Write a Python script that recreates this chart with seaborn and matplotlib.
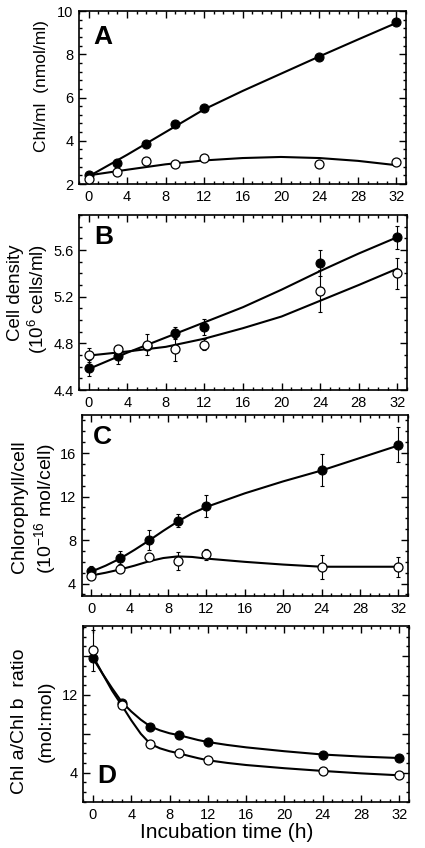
import matplotlib
matplotlib.use("Agg")
import matplotlib.pyplot as plt
import seaborn as sns
import numpy as np
import pandas as pd
from matplotlib.ticker import MultipleLocator, FixedLocator

sns.set_style("ticks")
plt.rcParams['font.family'] = ['Liberation Sans', 'DejaVu Sans']
plt.rcParams['mathtext.fontset'] = 'custom'
plt.rcParams['mathtext.rm'] = 'Liberation Sans'
plt.rcParams['mathtext.it'] = 'Liberation Sans:italic'
plt.rcParams['text.color'] = 'black'
plt.rcParams['axes.labelcolor'] = 'black'
plt.rcParams['xtick.color'] = 'black'
plt.rcParams['ytick.color'] = 'black'

# ---------------- data ----------------
time = [0, 3, 6, 9, 12, 24, 32]
x_ticks = [0, 4, 8, 12, 16, 20, 24, 28, 32]

A_filled = [2.42, 2.96, 3.84, 4.76, 5.50, 7.89, 9.51]
A_open = [2.23, 2.57, 3.08, 2.91, 3.22, 2.91, 3.00]
A_fit_x = [0, 4, 8, 12, 16, 20, 24, 28, 32]
A_fit_filled = [2.35, 3.35, 4.40, 5.45, 6.30, 7.10, 7.90, 8.68, 9.45]
A_fit_open = [2.40, 2.66, 2.91, 3.09, 3.20, 3.25, 3.20, 3.07, 2.87]

B_filled = [4.59, 4.69, 4.78, 4.89, 4.94, 5.49, 5.71]
B_filled_err = [0.07, 0.07, 0.0, 0.05, 0.07, 0.11, 0.10]
B_open = [4.70, 4.75, 4.79, 4.75, 4.79, 5.25, 5.40]
B_open_err = [0.06, 0.02, 0.09, 0.10, 0.05, 0.18, 0.13]
B_fit_x = [0, 4, 8, 12, 16, 20, 24, 28, 32]
B_fit_filled = [4.58, 4.72, 4.85, 4.98, 5.11, 5.26, 5.42, 5.57, 5.71]
B_fit_open = [4.695, 4.73, 4.77, 4.84, 4.93, 5.03, 5.165, 5.30, 5.44]

C_filled = [5.14, 6.37, 8.00, 9.78, 11.14, 14.46, 16.77]
C_filled_err = [0.5, 0.6, 0.9, 0.6, 1.0, 1.5, 1.6]
C_open = [4.71, 5.32, 6.46, 6.09, 6.68, 5.54, 5.54]
C_open_err = [0.2, 0.0, 0.0, 0.8, 0.5, 1.1, 0.95]
C_fit_x = [0, 1.5, 3, 4.5, 6, 7.5, 9, 10.5, 12, 16, 20, 24, 28, 32]
C_fit_filled = [5.1, 5.65, 6.3, 7.1, 7.95, 8.85, 9.7, 10.45, 11.05, 12.3, 13.4, 14.4, 15.55, 16.7]
C_fit_open = [4.75, 5.0, 5.3, 5.65, 6.05, 6.35, 6.5, 6.45, 6.3, 6.0, 5.75, 5.55, 5.55, 5.55]

D_filled = [15.8, 11.2, 8.72, 7.86, 7.17, 5.86, 5.52]
D_open = [16.6, 10.97, 6.90, 6.03, 5.28, 4.17, 3.72]
D_open_err = [2.1, 0, 0, 0, 0, 0, 0]
D_fit_x = [0, 1, 2, 3, 4, 5, 6, 7, 8, 9, 10, 11, 12, 14, 16, 20, 24, 28, 32]
D_fit_filled = [15.8, 14.2, 12.7, 11.3, 10.3, 9.45, 8.75, 8.35, 8.05, 7.85, 7.6, 7.35, 7.15,
                6.85, 6.6, 6.2, 5.86, 5.65, 5.5]
D_fit_open = [16.0, 14.2, 12.45, 10.95, 9.4, 8.0, 6.95, 6.5, 6.2, 5.98, 5.72, 5.48, 5.27,
              5.0, 4.78, 4.45, 4.17, 3.92, 3.72]

# ---------------- figure ----------------
W, H = 425, 848
fig = plt.figure(figsize=(W / 100, H / 100), dpi=100)


def rect(l, r, t, b):
    return [l / W, 1 - b / H, (r - l) / W, (b - t) / H]


def style(ax, ylim, ymaj, ymin):
    ax.set_xlim(-1, 33)
    ax.set_ylim(*ylim)
    ax.xaxis.set_major_locator(FixedLocator(x_ticks))
    ax.xaxis.set_minor_locator(MultipleLocator(1))
    ax.yaxis.set_major_locator(MultipleLocator(ymaj))
    ax.yaxis.set_minor_locator(MultipleLocator(ymin))
    ax.tick_params(which='both', direction='in', top=True, right=True,
                   width=1.0, labelsize=10.5, pad=4, colors='black')
    ax.tick_params(which='major', length=5)
    ax.tick_params(which='minor', length=2.5)
    for s in ax.spines.values():
        s.set_linewidth(1.2)
        s.set_color('black')
    ax.set_xlabel('')
    ax.set_ylabel('')


def draw(ax, fit_x, fit_f, fit_o, yf, yo, ef=None, eo=None):
    sns.lineplot(x=fit_x, y=fit_f, ax=ax, color='black', lw=1.5, sort=False,
                 estimator=None, zorder=2)
    sns.lineplot(x=fit_x, y=fit_o, ax=ax, color='black', lw=1.5, sort=False,
                 estimator=None, zorder=2)
    if ef is not None:
        ax.errorbar(time, yf, yerr=ef, fmt='none', ecolor='black', elinewidth=0.8,
                    capsize=1.5, capthick=0.8, zorder=3)
    if eo is not None:
        ax.errorbar(time, yo, yerr=eo, fmt='none', ecolor='black', elinewidth=0.8,
                    capsize=1.5, capthick=0.8, zorder=3)
    sns.scatterplot(x=time, y=yf, ax=ax, color='black', s=42, edgecolor='black',
                    linewidth=0.8, zorder=4)
    sns.scatterplot(x=time, y=yo, ax=ax, color='white', s=42, edgecolor='black',
                    linewidth=0.9, zorder=5)


LETTER = dict(fontsize=19, fontweight='bold', color='black')

# Panel A
axA = fig.add_axes(rect(79, 406, 11, 184))
draw(axA, A_fit_x, A_fit_filled, A_fit_open, A_filled, A_open)
style(axA, (2, 10), 2, 0.4)
axA.text(0.043, 0.92, 'A', transform=axA.transAxes, ha='left', va='top', **LETTER)

# Panel B
axB = fig.add_axes(rect(79, 407, 215, 390))
draw(axB, B_fit_x, B_fit_filled, B_fit_open, B_filled, B_open, B_filled_err, B_open_err)
style(axB, (4.4, 5.9), 0.4, 0.1)
axB.yaxis.set_major_formatter(matplotlib.ticker.FormatStrFormatter('%.1f'))
axB.text(0.046, 0.943, 'B', transform=axB.transAxes, ha='left', va='top', **LETTER)

# Panel C
axC = fig.add_axes(rect(81.7, 408, 415, 596))
draw(axC, C_fit_x, C_fit_filled, C_fit_open, C_filled, C_open, C_filled_err, C_open_err)
style(axC, (2.86, 19.5), 4, 1)
axC.text(0.035, 0.945, 'C', transform=axC.transAxes, ha='left', va='top', **LETTER)

# Panel D
axD = fig.add_axes(rect(83.3, 409, 626, 802))
draw(axD, D_fit_x, D_fit_filled, D_fit_open, D_filled, D_open, None, D_open_err)
style(axD, (0.97, 19.1), 4, 1)
axD.set_yticks([4, 8, 12, 16])
axD.set_yticklabels(['4', '', '12', ''])
axD.text(0.042, 0.08, 'D', transform=axD.transAxes, ha='left', va='bottom', **LETTER)


def ylab(x, y, s, size=14):
    fig.text(x / W, 1 - y / H, s, rotation=90, ha='center', va='center', fontsize=size)


ylab(42, 86, 'Chl/ml  (nmol/ml)', 12.5)
ylab(16, 293, 'Cell density', 13.5)
ylab(38, 299, '(10$^6$ cells/ml)', 13.5)
ylab(20, 507, 'Chlorophyll/cell')
ylab(45, 509, '(10$^{-16}$ mol/cell)')
ylab(20, 721, 'Chl a/Chl b  ratio')
ylab(46, 721, '(mol:mol)')

fig.text(227 / W, 1 - 832 / H, 'Incubation time (h)', ha='center', va='center', fontsize=15)

fig.savefig('out.png', dpi=100)
